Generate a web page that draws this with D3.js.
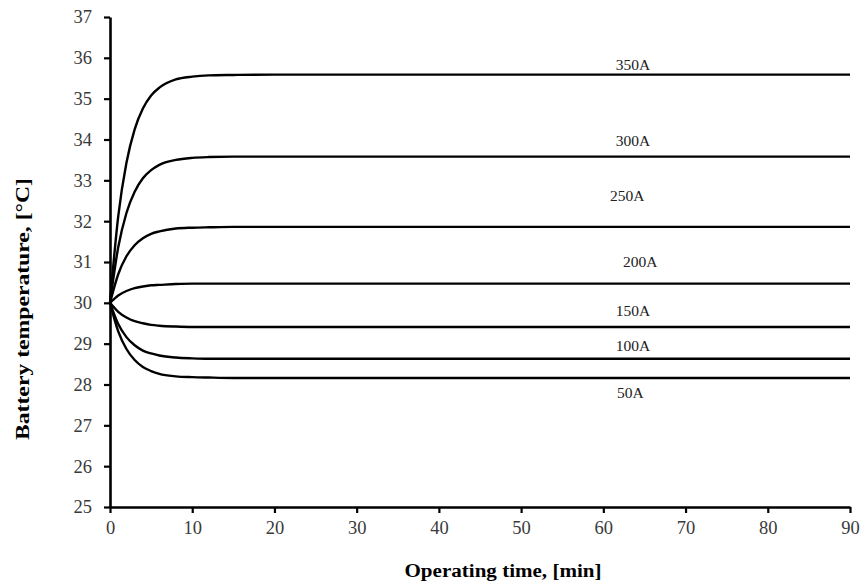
<!DOCTYPE html>
<html>
<head>
<meta charset="utf-8">
<script src="https://cdn.jsdelivr.net/npm/d3@7"></script>
<style>
  body { margin: 0; background: #fff; }
  svg { display: block; font-family: "Liberation Serif", "Times New Roman", serif; }
</style>
</head>
<body>
<div id="chart"></div>
<script>
// time axis samples, minutes
const times = [0, 1, 2, 3, 4, 5, 6, 8, 10, 12, 15, 20, 90];

// battery temperature per current
const t350 = [30, 32.12, 33.43, 34.25, 34.76, 35.08, 35.27, 35.47, 35.54, 35.57, 35.58, 35.59, 35.59];
const t300 = [30, 31.36, 32.20, 32.72, 33.05, 33.25, 33.38, 33.50, 33.55, 33.57, 33.58, 33.58, 33.58];
const t250 = [30, 30.70, 31.14, 31.41, 31.58, 31.69, 31.75, 31.82, 31.84, 31.85, 31.86, 31.86, 31.86];
const t200 = [30, 30.18, 30.29, 30.36, 30.40, 30.43, 30.44, 30.46, 30.47, 30.47, 30.47, 30.47, 30.47];
const t150 = [30, 29.78, 29.64, 29.55, 29.50, 29.46, 29.44, 29.42, 29.41, 29.41, 29.41, 29.41, 29.41];
const t100 = [30, 29.48, 29.16, 28.96, 28.83, 28.76, 28.71, 28.66, 28.64, 28.63, 28.63, 28.63, 28.63];
const t50  = [30, 29.30, 28.87, 28.60, 28.43, 28.33, 28.26, 28.20, 28.18, 28.17, 28.16, 28.16, 28.16];

const seriesNames = ['350A', '300A', '250A', '200A', '150A', '100A', '50A'];
const seriesValues = [t350, t300, t250, t200, t150, t100, t50];

// where each curve label sits, as [minutes, degC]
const labelAt = [[63.6, 35.70], [63.6, 33.84], [62.9, 32.49], [64.5, 30.88], [63.6, 29.68], [63.6, 28.82], [63.3, 27.67]];

const xTicks = [0, 10, 20, 30, 40, 50, 60, 70, 80, 90];
const yTicks = [25, 26, 27, 28, 29, 30, 31, 32, 33, 34, 35, 36, 37];

var width = 862;
var height = 586;
var mLeft = 110, mRight = 850, mTop = 17, mBottom = 507;

var svg = d3.select('#chart')
    .append('svg')
    .attr('width', width)
    .attr('height', height);

var x = d3.scaleLinear().domain([0, 90]).range([mLeft, mRight]);
var y = d3.scaleLinear().domain([25, 37]).range([mBottom, mTop]);

// curves
var line = d3.line()
    .x((d, i) => x(times[i]))
    .y(d => y(d))
    .curve(d3.curveMonotoneX);

svg.append('g')
    .selectAll('path')
    .data(seriesValues)
    .join('path')
    .attr('d', line)
    .attr('fill', 'none')
    .attr('stroke', '#000')
    .attr('stroke-width', 2.4);

// curve labels
svg.append('g')
    .selectAll('text')
    .data(seriesNames)
    .join('text')
    .attr('x', (d, i) => x(labelAt[i][0]))
    .attr('y', (d, i) => y(labelAt[i][1]))
    .attr('text-anchor', 'middle')
    .attr('font-size', 15.5)
    .attr('fill', '#222')
    .text(d => d);

// axes
var xaxis = d3.axisBottom(x).tickValues(xTicks).tickSize(6).tickPadding(8).tickSizeOuter(0);
var yaxis = d3.axisLeft(y).tickValues(yTicks).tickSize(6).tickPadding(12).tickSizeOuter(0);

var gx = svg.append('g')
    .attr('transform', 'translate(0,' + mBottom + ')')
    .call(xaxis);

var gy = svg.append('g')
    .attr('transform', 'translate(' + mLeft + ',0)')
    .call(yaxis);

[gx, gy].forEach(g => {
    g.select('.domain').attr('stroke', '#000').attr('stroke-width', 2.6);
    g.selectAll('.tick line').attr('stroke', '#000').attr('stroke-width', 2.2);
    g.selectAll('.tick text')
        .attr('font-family', '"Liberation Serif", serif')
        .attr('font-size', 18.5)
        .attr('fill', '#3a3a3a');
});

// axis titles
svg.append('text')
    .attr('x', 503)
    .attr('y', 577)
    .attr('text-anchor', 'middle')
    .attr('font-size', 18)
    .attr('font-weight', 'bold')
    .attr('textLength', 197)
    .attr('lengthAdjust', 'spacingAndGlyphs')
    .text('Operating time, [min]');

svg.append('text')
    .attr('transform', 'translate(29,309) rotate(-90)')
    .attr('text-anchor', 'middle')
    .attr('font-size', 18)
    .attr('font-weight', 'bold')
    .attr('textLength', 262)
    .attr('lengthAdjust', 'spacingAndGlyphs')
    .text('Battery temperature, [°C]');
</script>
</body>
</html>
